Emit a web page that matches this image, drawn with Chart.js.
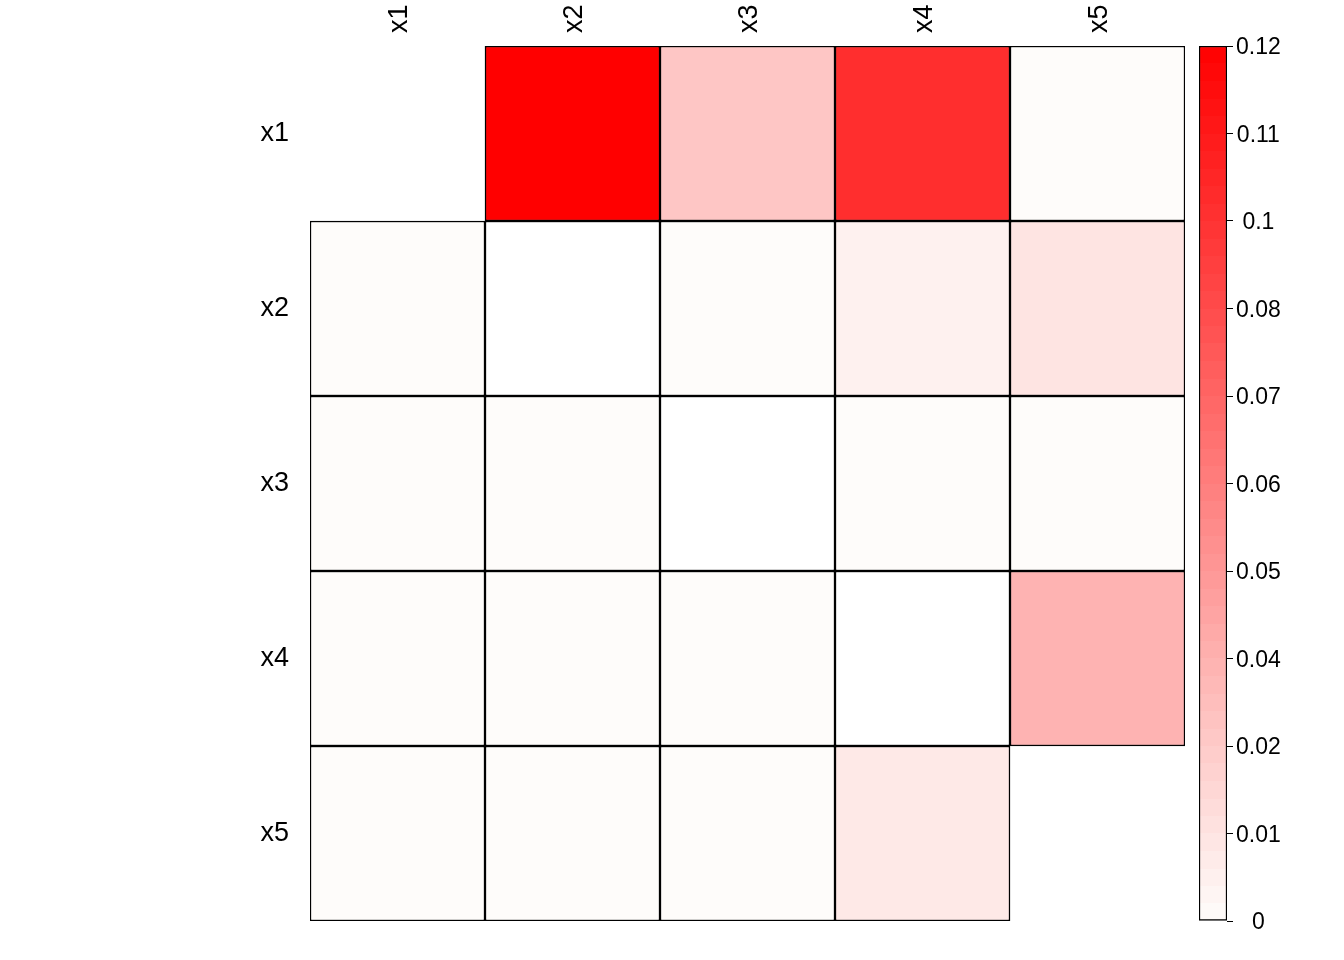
<!DOCTYPE html>
<html>
<head>
<meta charset="utf-8">
<script src="https://cdn.jsdelivr.net/npm/chart.js@4.4.1/dist/chart.umd.min.js"></script>
<style>
  html, body { margin: 0; padding: 0; background: #fff; }
  #wrap { position: relative; width: 1344px; height: 960px; }
  #main { position: absolute; left: 0; top: 0; }
  #bar { position: absolute; left: 1190px; top: 0; }
</style>
</head>
<body>
<div id="wrap">
  <canvas id="main" width="1344" height="960"></canvas>
  <canvas id="bar" width="154" height="960"></canvas>
</div>
<script>
// ---- datos ----
const colLabels = ["x1", "x2", "x3", "x4", "x5"];
const rowLabels = ["x1", "x2", "x3", "x4", "x5"];
// null = celda NA (blanca con borde); "skip" = celda no dibujada
const rowX1 = ["skip", 0.12, 0.026, 0.098, 0.0003];
const rowX2 = [0.0003, null, 0.0003, 0.0057, 0.012];
const rowX3 = [0.0003, 0.0003, null, 0.0003, 0.0003];
const rowX4 = [0.0003, 0.0003, 0.0003, null, 0.035];
const rowX5 = [0.0003, 0.0003, 0.0003, 0.0094, "skip"];
const rows = [rowX1, rowX2, rowX3, rowX4, rowX5];

const scaleMin = 0, scaleMax = 0.12;
const cbTickValues = [0, 0.012, 0.024, 0.036, 0.048, 0.06, 0.072, 0.084, 0.096, 0.108, 0.12];
const cbTickLabels = ["0", "0.01", "0.02", "0.04", "0.05", "0.06", "0.07", "0.08", "0.1", "0.11", "0.12"];

// ---- colores ----
const LOW = [254, 253, 251], HIGH = [255, 0, 0];
const N_STEPS = 50;
function colorFor(v){
  if (v === null) return "#ffffff";
  const t = Math.max(0, Math.min(1, (v - scaleMin) / (scaleMax - scaleMin)));
  const c = LOW.map((l, i) => Math.round(l + (HIGH[i] - l) * t));
  return `rgb(${c[0]},${c[1]},${c[2]})`;
}

const FONT = "'Liberation Sans', Arial, Helvetica, sans-serif";
Chart.defaults.font.family = FONT;
Chart.defaults.color = "#000";
Chart.defaults.animation = false;

// ---- mapa de calor ----
const datasets = rows.map((r, i) => ({
  label: rowLabels[i],
  data: r.map(v => v === "skip" ? null : [i, i + 1]),
  backgroundColor: r.map(v => v === "skip" ? "rgba(0,0,0,0)" : colorFor(v)),
  borderColor: "#000",
  borderWidth: 1.5,
  borderSkipped: false,
  barPercentage: 1,
  categoryPercentage: 1,
  grouped: false,
}));

new Chart(document.getElementById("main"), {
  type: "bar",
  data: { labels: colLabels, datasets },
  options: {
    responsive: false,
    layout: { padding: { left: 0, right: 159, top: 0, bottom: 39 } },
    plugins: { legend: { display: false }, tooltip: { enabled: false } },
    scales: {
      x: {
        position: "top",
        grid: { display: false, drawTicks: false },
        border: { display: false },
        ticks: { font: { size: 27 }, minRotation: 90, maxRotation: 90, padding: 13, labelOffset: 34, color: "#000" },
        afterFit: s => { s.height = 46; },
      },
      y: {
        type: "linear", min: 0, max: 5, reverse: true,
        grid: { display: false, drawTicks: false },
        border: { display: false },
        afterBuildTicks: s => { s.ticks = rowLabels.map((_, i) => ({ value: i + 0.5 })); },
        ticks: { font: { size: 27 }, padding: 21, color: "#000", callback: (v) => rowLabels[Math.floor(v)] },
        afterFit: s => { s.width = 310; },
      },
    },
  },
});

// ---- barra de colores ----
function stepGradient(ctx, area){
  const g = ctx.createLinearGradient(0, area.bottom, 0, area.top);
  for (let k = 0; k < N_STEPS; k++){
    const col = colorFor(scaleMin + (scaleMax - scaleMin) * (k + 0.5) / N_STEPS);
    g.addColorStop(k / N_STEPS, col);
    g.addColorStop((k + 1) / N_STEPS, col);
  }
  return g;
}

new Chart(document.getElementById("bar"), {
  type: "bar",
  data: {
    labels: [""],
    datasets: [{
      data: [[scaleMin, scaleMax]],
      backgroundColor: c => c.chart.chartArea ? stepGradient(c.chart.ctx, c.chart.chartArea) : "#fff",
      borderColor: "#000",
      borderWidth: 1.5,
      borderSkipped: false,
      barPercentage: 1,
      categoryPercentage: 1,
    }],
  },
  options: {
    responsive: false,
    layout: { padding: { left: 9, right: 0, top: 46, bottom: 39 } },
    plugins: { legend: { display: false }, tooltip: { enabled: false } },
    scales: {
      x: { display: false },
      y: {
        position: "right", min: scaleMin, max: scaleMax,
        grid: { drawOnChartArea: false, drawTicks: true, tickLength: 6, color: "#000", lineWidth: 1 },
        border: { display: false },
        afterBuildTicks: s => { s.ticks = cbTickValues.map(v => ({ value: v })); },
        ticks: {
          font: { size: 23 }, color: "#000", crossAlign: "center", labelOffset: 2,
          callback: (v, i) => cbTickLabels[i],
        },
        afterFit: s => { s.width = 117; },
      },
    },
  },
});
</script>
</body>
</html>
